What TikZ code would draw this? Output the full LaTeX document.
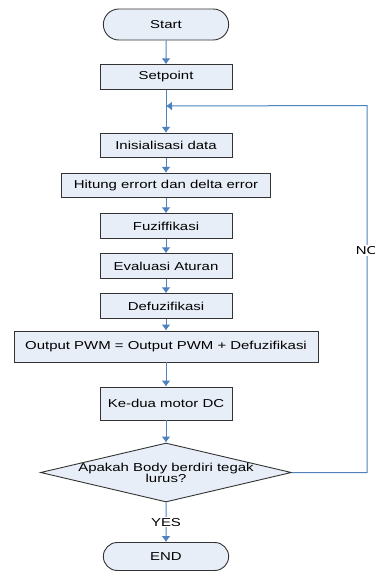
\documentclass[tikz,border=0pt]{standalone}
\usepackage{fontspec}
\setmainfont{Liberation Sans}[FakeStretch=1.3]
\usetikzlibrary{positioning,shapes.geometric,shapes.misc,arrows.meta}
\definecolor{boxfill}{RGB}{232,238,247}
\definecolor{flowblue}{RGB}{79,129,189}
\tikzset{>={Latex[length=6pt,width=9pt]}}
\tikzset{
  proc/.style={draw=black!80, fill=boxfill, line width=0.9pt, rectangle, minimum width=132pt, minimum height=24.5pt, inner sep=2pt},
  term/.style={draw=black!80, fill=boxfill, line width=0.9pt, rounded rectangle, minimum width=132pt, minimum height=31pt},
  decision/.style={draw=black!80, fill=boxfill, line width=0.9pt, diamond, minimum width=251pt, minimum height=59pt, inner sep=0pt},
  flow/.style={->, draw=flowblue, line width=1pt},
  flowlabel/.style={fill=white, inner sep=1pt}
}

\begin{document}
\begin{tikzpicture}[x=1pt, y=1pt, every node/.style={font=\fontsize{11.5}{12}\selectfont}]
      \useasboundingbox (0,0) rectangle (375,-571);
      \node[term] (n0) at (166,-24.5) {Start};
      \node[proc, below of=n0, node distance=52.5pt] (n1) {Setpoint};
      \node[proc, below of=n1, node distance=68.5pt] (n2) {Inisialisasi data};
      \node[proc, minimum width=209pt, below of=n2, node distance=40pt] (n3) {Hitung errort dan delta error};
      \node[proc, below of=n3, node distance=40.5pt] (n4) {Fuziffikasi};
      \node[proc, below of=n4, node distance=40pt] (n5) {Evaluasi Aturan};
      \node[proc, below of=n5, node distance=40pt] (n6) {Defuzifikasi};
      \node[proc, minimum width=304pt, minimum height=31pt, below of=n6, node distance=40.5pt] (n7) {Output PWM = Output PWM + Defuzifikasi};
      \node[proc, minimum height=33pt, below of=n7, node distance=57pt] (n8) {Ke-dua motor DC};
      \node[decision, below of=n8, node distance=69pt] (n9) {};
      \node[align=center, font=\fontsize{11.5}{11}\selectfont] (t9) at (n9) {Apakah Body berdiri tegak\\lurus?};
      \node[term, minimum height=28pt, below of=n9, node distance=84pt] (n10) {END};
      \coordinate[right of=n9, node distance=201pt] (aux1);
      \coordinate[above of=aux1, node distance=367pt] (aux2);
      \coordinate[below of=n1, node distance=29pt] (aux3);
      \draw[flow] (n0) -- (n1);
      \draw[flow] (n1) -- (n2);
      \draw[flow] (n2) -- (n3);
      \draw[flow] (n3) -- (n4);
      \draw[flow] (n4) -- (n5);
      \draw[flow] (n5) -- (n6);
      \draw[flow] (n6) -- (n7);
      \draw[flow] (n7) -- (n8);
      \draw[flow] (n8) -- (n9);
      \draw[flow] (n9) -- node[flowlabel] {YES} (n10);
      \draw[flow] (n9.east) -- (aux1) -- node[flowlabel, pos=0.605] {NO} (aux2) -- (aux3);
    \end{tikzpicture}
\end{document}
